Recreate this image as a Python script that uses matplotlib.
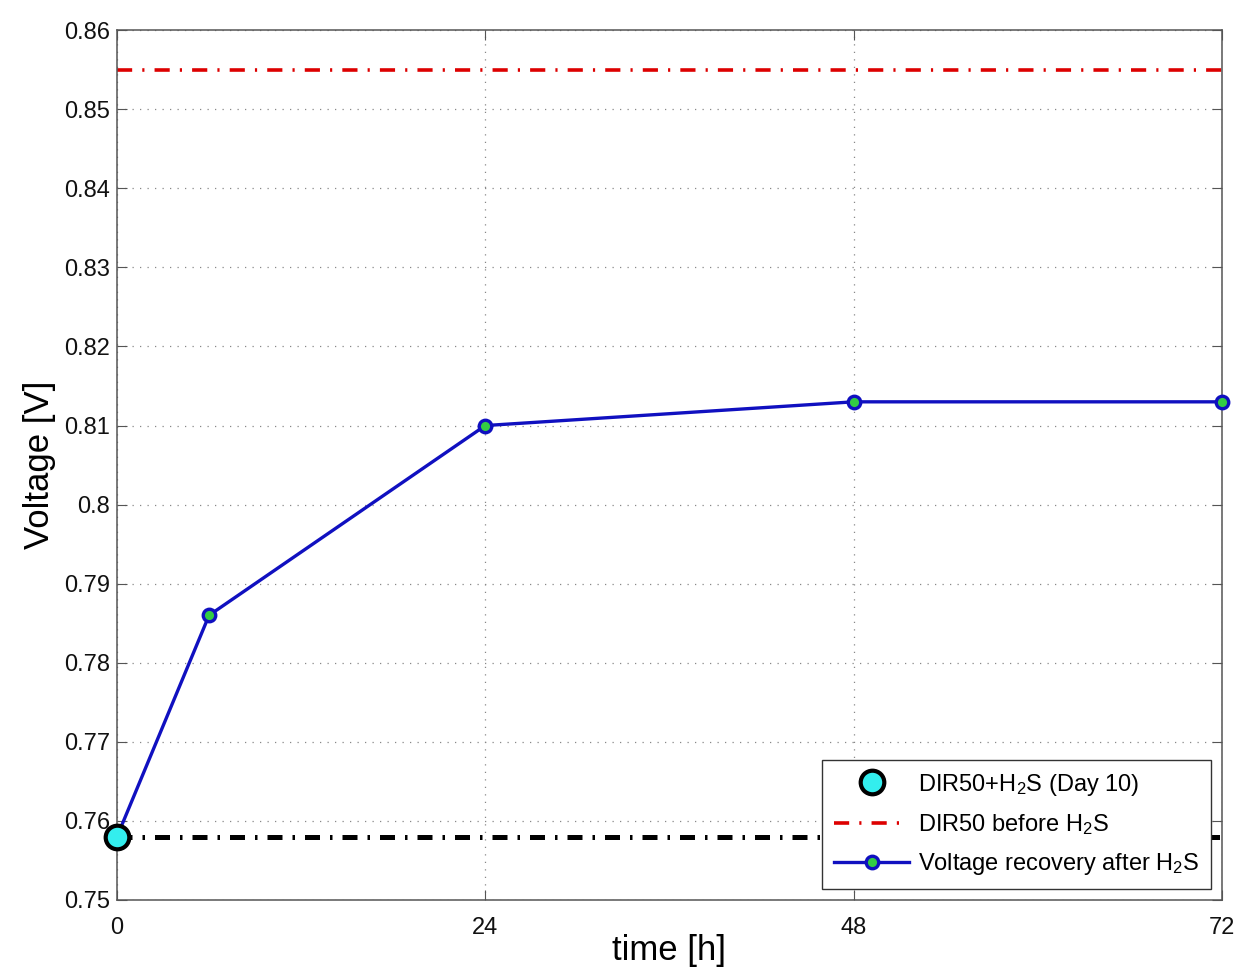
import matplotlib
matplotlib.use('Agg')
import matplotlib.pyplot as plt

plt.rcParams['font.family'] = ['Liberation Sans', 'DejaVu Sans']
plt.rcParams['mathtext.fontset'] = 'custom'
plt.rcParams['mathtext.rm'] = 'Liberation Sans'
plt.rcParams['mathtext.it'] = 'Liberation Sans'

# datos
time_h = [0, 6, 24, 48, 72]
voltage = [0.758, 0.786, 0.810, 0.813, 0.813]
v_before = 0.855
v_day10 = 0.758
x_ticks = [0, 24, 48, 72]
y_ticks = [0.75, 0.76, 0.77, 0.78, 0.79, 0.80, 0.81, 0.82, 0.83, 0.84, 0.85, 0.86]
y_labels = ['0.75', '0.76', '0.77', '0.78', '0.79', '0.8', '0.81', '0.82', '0.83', '0.84', '0.85', '0.86']

fig = plt.figure(figsize=(12.38, 9.74), dpi=100)
ax = fig.add_axes([0.0945, 0.076, 0.8925, 0.893])

# lineas de referencia
ax.plot([0, 72], [v_day10, v_day10], color='black', linewidth=3.6, dashes=(3.0, 2.0, 0.5, 2.0), zorder=2)
l_red, = ax.plot([0, 72], [v_before, v_before], color='#dd0000', linewidth=2.6, dashes=(4.2, 2.8, 0.6, 2.8), zorder=2)

# recuperacion
l_blue, = ax.plot(time_h, voltage, color='#1010c0', linewidth=2.4, marker='o', markersize=9,
                  markerfacecolor='#33cc44', markeredgecolor='#1010c0', markeredgewidth=2.4,
                  clip_on=False, zorder=4)

# punto dia 10
p_cyan, = ax.plot([0], [v_day10], linestyle='none', marker='o', markersize=17,
                  markerfacecolor='#33eeee', markeredgecolor='black', markeredgewidth=3,
                  clip_on=False, zorder=5)

ax.set_xlim(0, 72)
ax.set_ylim(0.75, 0.86)
ax.set_xticks(x_ticks)
ax.set_yticks(y_ticks)
ax.set_yticklabels(y_labels)
ax.tick_params(direction='in', top=True, right=True, labelsize=17, length=7, color='#555555', labelcolor='#111111')
ax.tick_params(axis='x', pad=12)
ax.tick_params(axis='y', pad=5)
for s in ax.spines.values():
    s.set_color('#555555')
    s.set_linewidth(1.1)
ax.grid(True, linestyle=(0, (1, 5)), color='#888888', linewidth=0.9)

ax.set_xlabel('time [h]', fontsize=25, labelpad=-3)
ax.set_ylabel('Voltage [V]', fontsize=25, labelpad=6)

leg = ax.legend([p_cyan, l_red, l_blue],
                [r'DIR50+H$_2$S (Day 10)', r'DIR50 before H$_2$S', r'Voltage recovery after H$_2$S'],
                loc='lower right', bbox_to_anchor=(0.99, 0.013), fontsize=17, fancybox=False, framealpha=1,
                edgecolor='#333333', borderaxespad=0.0, handlelength=3.2, handletextpad=0.35,
                labelspacing=0.6, borderpad=0.5)
leg.get_frame().set_linewidth(1.0)

fig.savefig('out.png', dpi=100)
